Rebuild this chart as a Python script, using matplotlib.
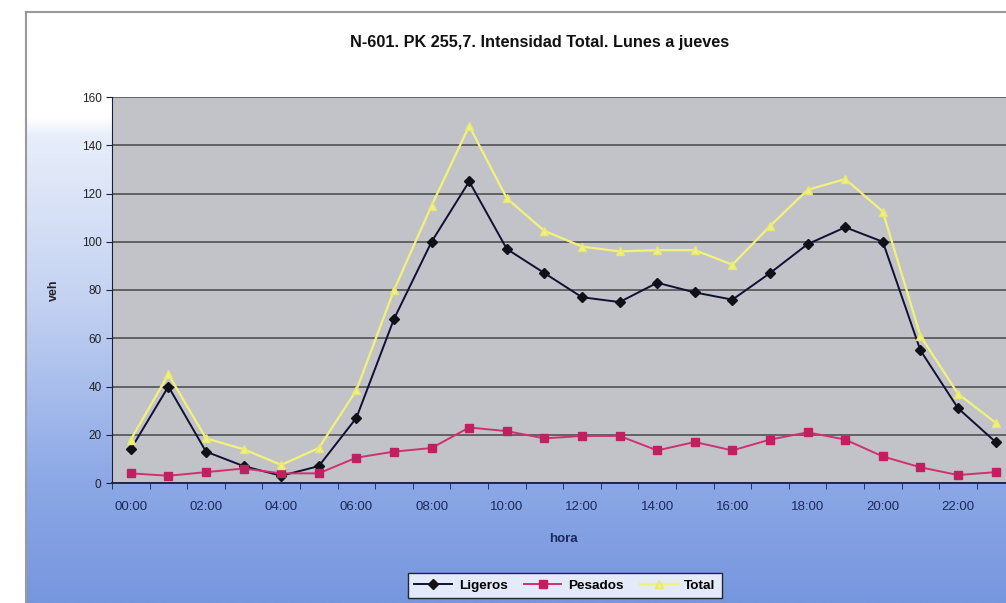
import numpy as np
import matplotlib
matplotlib.use("Agg")
import matplotlib.pyplot as plt

plt.rcParams['font.family'] = ['Liberation Sans', 'DejaVu Sans']

horas = [f"{h:02d}:00" for h in range(24)]
ligeros = [14, 40, 13, 7, 3, 7, 27, 68, 100, 125, 97, 87, 77, 75, 83, 79, 76, 87, 99, 106, 100, 55, 31, 17]
pesados = [4, 3, 4.5, 6, 4, 4, 10.5, 13, 14.5, 23, 21.5, 18.5, 19.5, 19.5, 13.5, 17, 13.5, 18, 21, 18, 11, 6.5, 3.3, 4.5]
total = [18, 45, 18.5, 14, 7.5, 14.5, 38.5, 80, 115, 148, 118, 104.5, 98, 96, 96.5, 96.5, 90.5, 106.5, 121.5, 126, 112.5, 61, 37, 25]
titulo = "N-601. PK 255,7. Intensidad Total. Lunes a jueves"

W, H = 1006, 603
fig = plt.figure(figsize=(W / 100, H / 100), dpi=100)
fig.patch.set_facecolor("white")

# background gradient (chart area)
bg = fig.add_axes([0, 0, 1, 1])
bg.set_xlim(0, W)
bg.set_ylim(H, 0)
bg.axis("off")
ys = np.arange(12, H + 1)
rs = np.interp(ys, [12, 118, 135, 300, 480, 603], [255, 255, 232, 196, 140, 118])
gs = np.interp(ys, [12, 118, 135, 300, 480, 603], [255, 255, 238, 210, 168, 150])
bs = np.interp(ys, [12, 118, 135, 300, 480, 603], [255, 255, 250, 242, 230, 222])
grad = np.stack([rs, gs, bs], axis=-1)[:, None, :] / 255.0
grad = np.repeat(grad, 2, axis=1)
bg.imshow(grad, extent=[26, W + 5, H, 12], aspect="auto", interpolation="bilinear")
bg.plot([26, 26], [12, H], color="#9a9a9a", lw=1.5)
bg.plot([26, W], [12, 12], color="#9a9a9a", lw=1.5)
bg.text(540, 42, titulo, ha="center", va="center", fontsize=11.7, fontweight="bold", color="#111111")

# plot area
left, right, top, bottom = 112, 1014.4, 97, 483
ax = fig.add_axes([left / W, 1 - bottom / H, (right - left) / W, (bottom - top) / H])
ax.set_facecolor("#c1c3c9")
x = np.arange(24)
ax.set_xlim(-0.5, 23.5)
ax.set_ylim(0, 160)
ax.set_yticks(np.arange(0, 161, 20))
ax.yaxis.grid(True, color="#484848", lw=1.1)
ax.set_axisbelow(True)
for s in ["top", "right"]:
    ax.spines[s].set_visible(False)
ax.spines["left"].set_color("#1a2040")
ax.spines["bottom"].set_color("#1a2040")
ax.spines["bottom"].set_linewidth(1.3)

ax.set_xticks(x[::2])
ax.set_xticklabels(horas[::2], fontsize=9.5, color="#1a2a5a")
ax.set_xticks(np.arange(-0.5, 24, 1), minor=True)
ax.tick_params(axis="x", which="major", length=0, pad=13)
ax.tick_params(axis="x", which="minor", length=4, color="#1a2040")
ax.tick_params(axis="y", labelsize=8.5, length=4, color="#1a2040", labelcolor="#222222")

ax.set_xlabel("hora", fontsize=9.5, fontweight="bold", color="#1a2a5a", labelpad=14)
ax.set_ylabel("veh", fontsize=9, fontweight="bold", color="#222222", labelpad=16)

l1, = ax.plot(x, ligeros, color="#101035", lw=1.4, marker="D", ms=5, mfc="#101018", mec="#101018", label="Ligeros")
l2, = ax.plot(x, pesados, color="#d03070", lw=1.4, marker="s", ms=5.5, mfc="#c02060", mec="#c02060", label="Pesados")
l3, = ax.plot(x, total, color="#f2f27a", lw=1.6, marker="^", ms=6, mfc="#f0f080", mec="#e8e870", label="Total")

leg = fig.legend(handles=[l1, l2, l3], loc="center", bbox_to_anchor=(565 / W, 1 - 585.5 / H),
                 ncol=3, fontsize=9.7, frameon=True, fancybox=False, edgecolor="black",
                 handlelength=2.8, columnspacing=1.2, handletextpad=0.5, borderpad=0.5)
leg.get_frame().set_linewidth(1.0)
leg.get_frame().set_facecolor("white")
for t in leg.get_texts():
    t.set_fontweight("bold")

fig.savefig("out.png", dpi=100)
